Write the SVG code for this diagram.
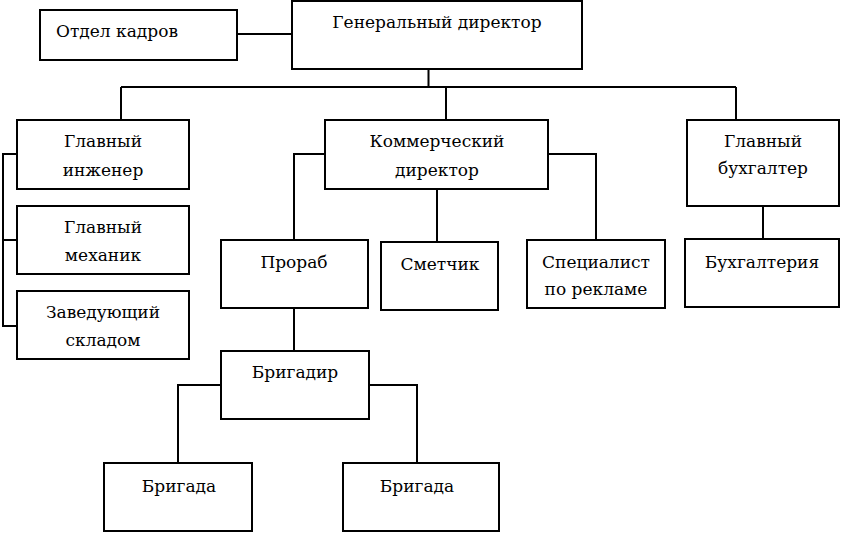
<svg xmlns="http://www.w3.org/2000/svg" width="841" height="533" viewBox="0 0 841 533">
<style>
.box{fill:#fff;stroke:#000;stroke-width:2}
.ln{fill:none;stroke:#000;stroke-width:2}
text{font-family:'DejaVu Serif',serif;font-size:17px;fill:#000;text-anchor:middle}
</style>
<rect width="841" height="533" fill="#fff"/>
<g id="connectors">
<path class="ln" d="M237 34H292"/>
<path class="ln" d="M428.5 69V87M121 87H736M121 87V120M446 87V120M736 87V120"/>
<path class="ln" d="M17 154H3V326H17M3 240H17"/>
<path class="ln" d="M325 154H294V240M437 189V242M548 154H596V240"/>
<path class="ln" d="M763 206V239"/>
<path class="ln" d="M294 308V351"/>
<path class="ln" d="M221 385H178V463M369 385H417V463"/>
</g>
<g id="otdel-kadrov"><rect class="box" x="40" y="10" width="197" height="50"/><text x="117" y="37">Отдел кадров</text></g>
<g id="gen-direktor"><rect class="box" x="292" y="1" width="290" height="68"/><text x="437" y="28">Генеральный директор</text></g>
<g id="glav-inzhener"><rect class="box" x="17" y="120" width="172" height="69"/><text x="103" y="147">Главный</text><text x="103" y="176">инженер</text></g>
<g id="kommerch-direktor"><rect class="box" x="325" y="120" width="223" height="69"/><text x="437" y="147">Коммерческий</text><text x="437" y="176">директор</text></g>
<g id="glav-buhgalter"><rect class="box" x="687" y="120" width="152" height="86"/><text x="763" y="147">Главный</text><text x="763" y="174">бухгалтер</text></g>
<g id="glav-mehanik"><rect class="box" x="17" y="206" width="172" height="68"/><text x="103" y="233">Главный</text><text x="103" y="261">механик</text></g>
<g id="zav-skladom"><rect class="box" x="17" y="291" width="172" height="68"/><text x="103" y="318">Заведующий</text><text x="103" y="346">складом</text></g>
<g id="prorab"><rect class="box" x="221" y="240" width="147" height="68"/><text x="294" y="268">Прораб</text></g>
<g id="smetchik"><rect class="box" x="381" y="242" width="117" height="68"/><text x="440" y="270">Сметчик</text></g>
<g id="specialist"><rect class="box" x="527" y="240" width="138" height="68"/><text x="596" y="268">Специалист</text><text x="596" y="295">по рекламе</text></g>
<g id="buhgalteriya"><rect class="box" x="685" y="239" width="154" height="68"/><text x="762" y="268">Бухгалтерия</text></g>
<g id="brigadir"><rect class="box" x="221" y="351" width="148" height="68"/><text x="295" y="378">Бригадир</text></g>
<g id="brigada-1"><rect class="box" x="104" y="463" width="148" height="68"/><text x="179" y="492">Бригада</text></g>
<g id="brigada-2"><rect class="box" x="343" y="463" width="156" height="68"/><text x="417" y="492">Бригада</text></g>
</svg>
